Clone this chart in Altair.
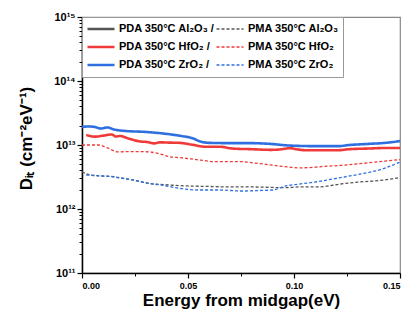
import altair as alt
import pandas as pd

# ---- data (Dit in units of 1e12 cm^-2 eV^-1) ----
series_order = [
    "PDA 350°C Al₂O₃", "PDA 350°C HfO₂", "PDA 350°C ZrO₂",
    "PMA 350°C Al₂O₃", "PMA 350°C HfO₂", "PMA 350°C ZrO₂",
]
series_colors = ["#555555", "#f03a3a", "#2f6fe0", "#555555", "#f03a3a", "#2f6fe0"]
series_dash = [[1, 0], [1, 0], [1, 0], [3, 2], [3, 2], [3, 2]]
series_width = [2.6, 2.6, 2.6, 1.3, 1.3, 1.3]

pda_zro2_E = [0.000, 0.003, 0.006, 0.009, 0.012, 0.015, 0.020, 0.030, 0.040, 0.047, 0.052, 0.056,
              0.060, 0.070, 0.079, 0.089, 0.098, 0.110, 0.121, 0.126, 0.135, 0.143, 0.150]
pda_zro2_D = [19.1, 19.5, 19.1, 18.1, 18.8, 17.5, 16.6, 16.0, 14.9, 13.8, 12.8, 11.3,
              10.8, 10.7, 10.7, 10.4, 9.8, 9.6, 9.6, 10.0, 10.4, 10.8, 11.5]

pda_hfo2_E = [0.002, 0.006, 0.010, 0.014, 0.016, 0.018, 0.022, 0.027, 0.031, 0.034, 0.037, 0.041,
              0.046, 0.052, 0.058, 0.065, 0.071, 0.080, 0.089, 0.093, 0.098, 0.102, 0.105, 0.113,
              0.121, 0.126, 0.135, 0.144, 0.150]
pda_hfo2_D = [14.3, 13.5, 14.0, 14.6, 13.6, 13.8, 12.6, 11.4, 11.1, 10.6, 11.0, 10.9,
              10.8, 10.1, 9.4, 9.4, 8.8, 8.6, 8.4, 8.5, 8.9, 8.5, 8.3, 8.3,
              8.3, 8.6, 8.8, 9.0, 9.0]

pma_hfo2_E = [0.000, 0.004, 0.008, 0.012, 0.017, 0.022, 0.027, 0.033, 0.037, 0.041, 0.047, 0.056,
              0.063, 0.075, 0.082, 0.093, 0.098, 0.102, 0.110, 0.113, 0.122, 0.131, 0.140, 0.150]
pma_hfo2_D = [10.0, 10.0, 10.0, 9.0, 7.8, 7.9, 7.9, 7.7, 7.2, 6.6, 6.3, 5.8,
              5.5, 5.5, 5.2, 4.7, 4.5, 4.4, 4.5, 4.6, 4.8, 5.1, 5.5, 5.9]

pma_al2o3_E = [0.000, 0.004, 0.008, 0.015, 0.020, 0.025, 0.027, 0.032, 0.039, 0.050, 0.060, 0.070,
               0.080, 0.090, 0.096, 0.103, 0.112, 0.122, 0.131, 0.141, 0.150]
pma_al2o3_D = [3.8, 3.4, 3.3, 3.2, 3.0, 2.8, 2.7, 2.5, 2.4, 2.29, 2.25, 2.21,
               2.21, 2.17, 2.15, 2.22, 2.22, 2.46, 2.64, 2.8, 3.1]

pma_zro2_E = [0.002, 0.008, 0.014, 0.018, 0.025, 0.032, 0.038, 0.046, 0.055, 0.065, 0.075, 0.085,
              0.090, 0.096, 0.103, 0.112, 0.122, 0.131, 0.141, 0.150]
pma_zro2_D = [3.4, 3.3, 3.2, 3.05, 2.8, 2.5, 2.35, 2.1, 1.98, 1.98, 1.91, 1.95,
              1.98, 2.29, 2.46, 2.7, 3.1, 3.5, 4.15, 5.4]

y_major = [1e11, 1e12, 1e13, 1e14, 1e15]
y_minor = [m * 10 ** k for k in range(11, 15) for m in range(2, 10)]
x_major = [0.00, 0.05, 0.10, 0.15]
x_minor = [0.025, 0.075, 0.125]

# ---- table ----
rows = []
for name, E, D in [
    ("PMA 350°C Al₂O₃", pma_al2o3_E, pma_al2o3_D),
    ("PMA 350°C HfO₂", pma_hfo2_E, pma_hfo2_D),
    ("PMA 350°C ZrO₂", pma_zro2_E, pma_zro2_D),
    ("PDA 350°C HfO₂", pda_hfo2_E, pda_hfo2_D),
    ("PDA 350°C ZrO₂", pda_zro2_E, pda_zro2_D),
]:
    for e, d in zip(E, D):
        rows.append({"series": name, "E": e, "Dit": d * 1e12})
df = pd.DataFrame(rows)

FONT = "Liberation Sans"
xscale = alt.Scale(domain=[0, 0.15], nice=False, zero=False)
yscale = alt.Scale(type="log", domain=[1e11, 1e15], nice=False)

label_expr = ("'10' + (datum.value > 5e14 ? '¹⁵' : datum.value > 5e13 ? '¹⁴' : "
              "datum.value > 5e12 ? '¹³' : datum.value > 5e11 ? '¹²' : '¹¹')")

lines = alt.Chart(df).mark_line(interpolate="monotone").encode(
    x=alt.X("E:Q", scale=xscale,
            axis=alt.Axis(values=x_major, format=".2f", title="Energy from midgap(eV)",
                          titleFontSize=17, titleFont=FONT, titleFontWeight="bold",
                          titlePadding=2, labelFont=FONT, labelFontWeight="bold",
                          labelFontSize=9, labelColor="black", tickSize=5,
                          tickColor="black", domainColor="black", domainWidth=1.5,
                          tickWidth=1.2, grid=False, labelPadding=3)),
    y=alt.Y("Dit:Q", scale=yscale,
            axis=alt.Axis(values=y_major, labelExpr=label_expr,
                          title="Dᵢₜ (cm⁻²eV⁻¹)", titleFontSize=17, titleFont=FONT,
                          titleFontWeight="bold", titlePadding=18, titleY=121, labelFont=FONT,
                          labelFontWeight="bold", labelFontSize=11, labelColor="black",
                          tickSize=5, tickColor="black", domainColor="black",
                          domainWidth=1.5, tickWidth=1.2, grid=False, labelPadding=2)),
    color=alt.Color("series:N", scale=alt.Scale(domain=series_order, range=series_colors),
                    legend=alt.Legend(
                        title=None,
                        labelExpr="indexof(datum.label, 'PDA') == 0 ? datum.label + ' /' : datum.label")),
    strokeDash=alt.StrokeDash("series:N",
                              scale=alt.Scale(domain=series_order, range=series_dash),
                              legend=alt.Legend(title=None)),
    strokeWidth=alt.StrokeWidth("series:N",
                                scale=alt.Scale(type="ordinal", domain=series_order,
                                                range=series_width),
                                legend=alt.Legend(title=None)),
)

minor_y = alt.Chart(df).mark_point(opacity=0).encode(
    x=alt.X("E:Q", scale=xscale, axis=None),
    y=alt.Y("Dit:Q", scale=yscale,
            axis=alt.Axis(values=y_minor, labels=False, title=None, orient="left",
                          tickSize=3, tickColor="black", domain=False, grid=False, tickWidth=1)),
)
minor_x = alt.Chart(df).mark_point(opacity=0).encode(
    x=alt.X("E:Q", scale=xscale,
            axis=alt.Axis(values=x_minor, labels=False, title=None, orient="bottom",
                          tickSize=3, tickColor="black", domain=False, grid=False, tickWidth=1)),
    y=alt.Y("Dit:Q", scale=yscale, axis=None),
)

chart = alt.layer(lines, minor_y, minor_x).resolve_axis(x="independent", y="independent").properties(
    width=318, height=256,
    autosize=alt.AutoSizeParams(type="none"),
    padding={"left": 74, "top": 9, "right": 9, "bottom": 46},
).configure_view(stroke="#888888", strokeWidth=1.2).configure_legend(
    orient="top-left", offset=0, columns=2, symbolType="stroke", symbolSize=729,
    clipHeight=16, labelFont=FONT, labelFontWeight="bold", labelFontSize=11, labelColor="black",
    strokeColor="#999999", fillColor="white", padding=4, columnPadding=-6, rowPadding=2,
    labelOffset=3, labelLimit=200,
)

chart.save("out.html", embed_options={"renderer": "svg", "actions": False})
